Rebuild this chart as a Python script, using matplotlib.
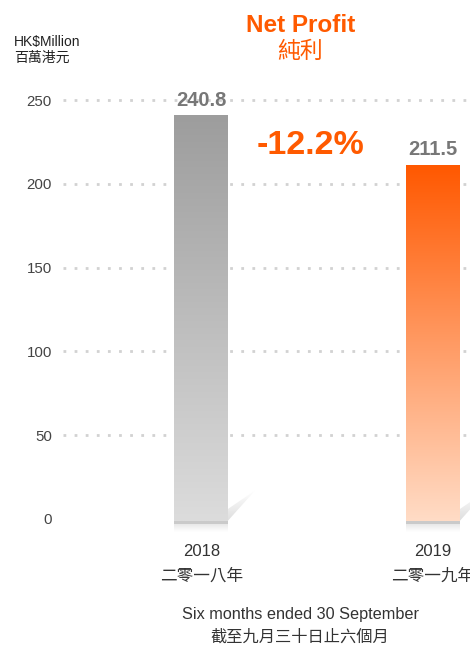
import matplotlib
matplotlib.use("Agg")
import matplotlib.pyplot as plt
import numpy as np
from matplotlib.colors import LinearSegmentedColormap
from matplotlib.patches import Polygon

plt.rcParams['font.family'] = ['Liberation Sans', 'Noto Sans CJK TC', 'DejaVu Sans']

years = ["2018", "2019"]
years_zh = ["二零一八年", "二零一九年"]
values = [240.8, 211.5]
yticks = [0, 50, 100, 150, 200, 250]
change_label = "-12.2%"
top_colors = ["#9d9d9d", "#ff5800"]
bottom_colors = ["#dcdcdc", "#ffdcc6"]

W, H = 470, 646
fig = plt.figure(figsize=(W / 100, H / 100), dpi=100)

ax_left, ax_right, ax_top, ax_bot = 63, 470, 80, 540
ax = fig.add_axes([ax_left / W, 1 - ax_bot / H, (ax_right - ax_left) / W, (ax_bot - ax_top) / H])
px_per_unit = (519 - 100) / 250
px_per_x = 433 - 201
XLIM = (-(201 - ax_left) / px_per_x, 1 + (ax_right - 433) / px_per_x)
YLIM = (-(ax_bot - 519) / px_per_unit, 250 + (100 - ax_top) / px_per_unit)
for s in ax.spines.values():
    s.set_visible(False)
ax.set_xticks([])
ax.set_yticks(yticks)
ax.set_yticklabels([str(t) for t in yticks], fontsize=10.8, color="#444444")
ax.tick_params(axis="y", length=0, pad=8)

for t in yticks[1:]:
    ax.axhline(t, color="#d2d2d2", lw=2, ls=(0, (1, 3)), dash_capstyle="butt", zorder=0)

x = np.arange(len(values))
width = 54 / px_per_x
b0 = -1.0
bars = ax.bar(x, [v - b0 for v in values], width=width, bottom=b0, color="none", zorder=2)
grad = np.linspace(0, 1, 256).reshape(-1, 1)
for i, b in enumerate(bars):
    cmap = LinearSegmentedColormap.from_list("g%d" % i, [top_colors[i], bottom_colors[i]])
    im = ax.imshow(grad, cmap=cmap, aspect="auto", origin="upper",
                   extent=(b.get_x(), b.get_x() + b.get_width(), b0, values[i]), zorder=2)
    im.set_clip_path(b)
    xl = b.get_x()
    xr = xl + b.get_width()
    ax.fill_between([xl, xr], b0 - 1.8, b0, color="#cacaca", lw=0, zorder=2)
    ax.imshow(np.linspace(0, 1, 50).reshape(-1, 1),
              cmap=LinearSegmentedColormap.from_list("s", ["#e6e6e6", "#ffffff"]),
              aspect="auto", origin="upper",
              extent=(xl, xr, b0 - 7, b0 - 1.8), zorder=1)
    poly = Polygon([(xr, b0), (xr, b0 + 7), (xr + 27 / px_per_x, b0 + 18)], closed=True,
                   facecolor="none", edgecolor="none", zorder=1)
    ax.add_patch(poly)
    cg = np.linspace(0, 1, 60).reshape(-1, 1)
    cim = ax.imshow(cg, cmap=LinearSegmentedColormap.from_list("c", ["#ffffff", "#dedede"]),
                    aspect="auto", origin="upper",
                    extent=(xr, xr + 27 / px_per_x, b0, b0 + 18), zorder=1)
    cim.set_clip_path(poly)
    ax.text(x[i], values[i] + 3.0, f"{values[i]:.1f}", ha="center", va="bottom",
            fontsize=14.5, fontweight="bold", color="#777777", zorder=3)

ax.set_xlim(*XLIM)
ax.set_ylim(*YLIM)

def ftxt(px, py, s, **kw):
    fig.text(px / W, 1 - py / H, s, **kw)

ftxt(301, 26, "Net Profit", ha="center", va="center", fontsize=17.5, fontweight="bold", color="#ff5a00")
ftxt(300, 51, "純利", ha="center", va="center", fontsize=16.5, color="#ff5a00")
ftxt(14, 42, "HK$Million", ha="left", va="center", fontsize=10, color="#222222")
ftxt(14, 58, "百萬港元", ha="left", va="center", fontsize=10, color="#222222")
ftxt(310, 146, change_label, ha="center", va="center", fontsize=24.5, fontweight="bold", color="#ff5a00")

xpix = [202, 433]
for i in range(len(years)):
    ftxt(xpix[i], 552, years[i], ha="center", va="center", fontsize=12, color="#333333")
    ftxt(xpix[i], 576, years_zh[i], ha="center", va="center", fontsize=12, color="#333333")

ftxt(300, 614, "Six months ended 30 September", ha="center", va="center", fontsize=11.7, color="#333333")
ftxt(300, 637, "截至九月三十日止六個月", ha="center", va="center", fontsize=11.7, color="#333333")

fig.savefig("out.png", dpi=100, facecolor="white")
